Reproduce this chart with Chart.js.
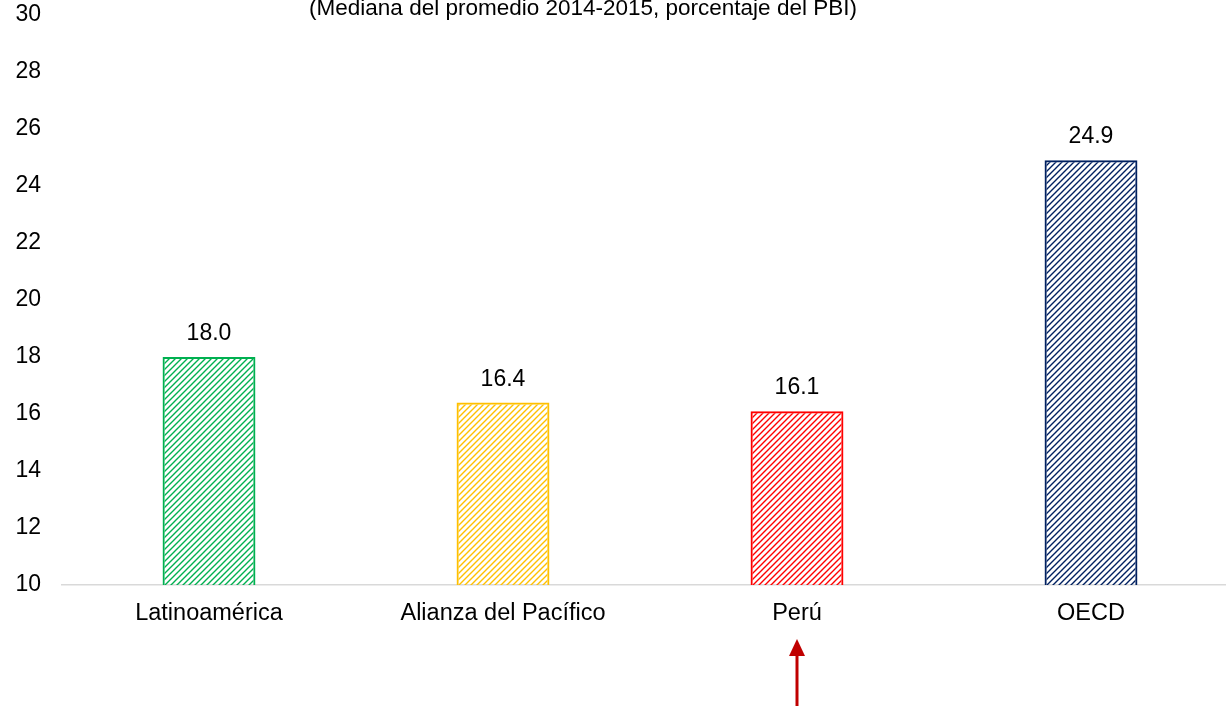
<!DOCTYPE html>
<html>
<head>
<meta charset="utf-8">
<script src="https://cdn.jsdelivr.net/npm/chart.js@4"></script>
<style>
  html, body { margin: 0; padding: 0; background: #fff; overflow: hidden; }
  #wrap { width: 1226px; height: 706px; overflow: hidden; }
</style>
</head>
<body>
<div id="wrap"><canvas id="chart" width="1240" height="706"></canvas></div>
<script>
const subtitle = '(Mediana del promedio 2014-2015, porcentaje del PBI)';
const regions = ['Latinoamérica', 'Alianza del Pacífico', 'Perú', 'OECD'];
const values = [18.0, 16.4, 16.1, 24.9];
const barColors = ['#00b050', '#ffc000', '#ff0000', '#002060'];
const highlighted = 'Perú';

const FONT = '"Liberation Sans", Arial, sans-serif';

// diagonal hatch like the excel pattern fill
function hatch(color) {
    const c = document.createElement('canvas');
    c.width = 6;
    c.height = 6;
    const g = c.getContext('2d');
    g.strokeStyle = color;
    g.lineWidth = 1.4;
    g.beginPath();
    g.moveTo(-1, 7); g.lineTo(7, -1);
    g.moveTo(-4, 4); g.lineTo(4, -4);
    g.moveTo(2, 10); g.lineTo(10, 2);
    g.stroke();
    return g.createPattern(c, 'repeat');
}

const extras = {
    id: 'extras',
    afterDatasetsDraw(chart) {
        const ctx = chart.ctx;
        const meta = chart.getDatasetMeta(0);
        ctx.save();
        ctx.fillStyle = '#000';
        ctx.font = '23px ' + FONT;
        ctx.textAlign = 'center';
        ctx.textBaseline = 'alphabetic';
        meta.data.forEach((bar, i) => {
            ctx.fillText(values[i].toFixed(1), bar.x, bar.y - 17);
        });

        // title, cut at the top edge
        ctx.font = '22.5px ' + FONT;
        ctx.fillText(subtitle, 583, 15);

        // arrow under Perú
        const x = chart.scales.x.getPixelForValue(regions.indexOf(highlighted));
        ctx.strokeStyle = '#c00000';
        ctx.fillStyle = '#c00000';
        ctx.lineWidth = 3;
        ctx.beginPath();
        ctx.moveTo(x, 706);
        ctx.lineTo(x, 654);
        ctx.stroke();
        ctx.beginPath();
        ctx.moveTo(x, 639);
        ctx.lineTo(x - 8, 656);
        ctx.lineTo(x + 8, 656);
        ctx.closePath();
        ctx.fill();
        ctx.restore();
    }
};

new Chart(document.getElementById('chart').getContext('2d'), {
    type: 'bar',
    data: {
        labels: regions,
        datasets: [{
            data: values,
            backgroundColor: barColors.map(hatch),
            borderColor: barColors,
            borderWidth: 2,
            borderSkipped: false,
            barPercentage: 0.316,
            categoryPercentage: 1
        }]
    },
    options: {
        responsive: false,
        animation: false,
        layout: { padding: { top: 15, right: 2, left: 0, bottom: 0 } },
        plugins: {
            legend: { display: false },
            tooltip: { enabled: false }
        },
        scales: {
            x: {
                grid: { display: false, drawTicks: false },
                border: { display: true, color: '#d9d9d9', width: 1.5 },
                ticks: {
                    color: '#000',
                    font: { family: FONT, size: 23.5 },
                    padding: 14,
                    maxRotation: 0
                },
                afterFit(scale) { scale.height = 706 - 585; }
            },
            y: {
                min: 10,
                max: 30,
                grid: { display: false, drawTicks: false },
                border: { display: false },
                ticks: {
                    stepSize: 2,
                    color: '#000',
                    font: { family: FONT, size: 23 },
                    padding: 21
                },
                afterFit(scale) {
                    scale.width = 62;
                    scale.paddingTop = 0;
                    scale.paddingBottom = 0;
                }
            }
        }
    },
    plugins: [extras]
});
</script>
</body>
</html>
